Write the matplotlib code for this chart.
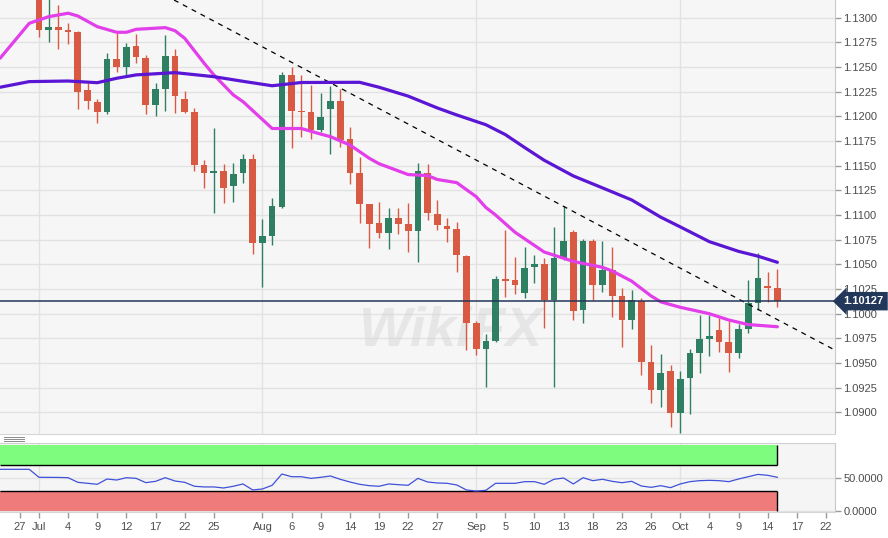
import matplotlib
matplotlib.use("Agg")
import matplotlib.pyplot as plt
import matplotlib.transforms as mtransforms
from matplotlib.lines import Line2D
from matplotlib.ticker import FormatStrFormatter
import numpy as np
import pandas as pd

plt.rcParams['font.family'] = ['Liberation Sans', 'DejaVu Sans']

# daily candles, 2019-07-01 .. 2019-10-15 (trading days)
first_candle = "2019-07-01"
opens = [1.1362, 1.12875, 1.12903, 1.12872, 1.12852, 1.12267, 1.12149, 1.12044, 1.12581, 1.12497,
         1.12713, 1.12595, 1.12115, 1.12274, 1.12609, 1.12176, 1.12041, 1.11507, 1.11426, 1.11443,
         1.11297, 1.11426, 1.11565, 1.10720, 1.10791, 1.11085, 1.12419, 1.12054, 1.12041, 1.11862,
         1.12075, 1.12159, 1.11768, 1.11429, 1.11109, 1.10916, 1.10815, 1.10967, 1.10906, 1.10838,
         1.11429, 1.11011, 1.10892, 1.10855, 1.10588, 1.09903, 1.09642, 1.09723, 1.10349, 1.10342,
         1.10207, 1.10470, 1.10501, 1.10139, 1.10561, 1.10831, 1.10038, 1.10740, 1.10291, 1.10443,
         1.10179, 1.09936, 1.10132, 1.09511, 1.09227, 1.09419, 1.08997, 1.09345, 1.09605, 1.09747,
         1.09835, 1.09716, 1.09599, 1.09842, 1.10111, 1.10281, 1.10257]
highs = [1.1405, 1.1322, 1.13129, 1.12949, 1.12868, 1.12335, 1.12179, 1.12639, 1.12842, 1.12747,
         1.12835, 1.12622, 1.12335, 1.12825, 1.12680, 1.12257, 1.12082, 1.11558, 1.11879, 1.11514,
         1.11524, 1.11619, 1.11619, 1.10957, 1.11170, 1.12453, 1.12497, 1.12419, 1.12318, 1.12234,
         1.12308, 1.12277, 1.11895, 1.11585, 1.11109, 1.11135, 1.11068, 1.11068, 1.11125, 1.11524,
         1.11517, 1.11152, 1.10973, 1.10932, 1.10595, 1.09926, 1.09791, 1.10382, 1.10848, 1.10572,
         1.10679, 1.10595, 1.10561, 1.10876, 1.11092, 1.10848, 1.10754, 1.10754, 1.10740, 1.10673,
         1.10258, 1.10240, 1.10156, 1.09683, 1.09592, 1.09480, 1.09422, 1.09639, 1.09987, 1.09987,
         1.09953, 1.09929, 1.09893, 1.10342, 1.10618, 1.10426, 1.10456]
lows = [1.12807, 1.12751, 1.12680, 1.12730, 1.12072, 1.12072, 1.11930, 1.12021, 1.12450, 1.12419,
        1.12538, 1.12024, 1.12004, 1.12054, 1.12031, 1.12031, 1.11449, 1.11271, 1.11018, 1.11119,
        1.11129, 1.11322, 1.10605, 1.10268, 1.10696, 1.11068, 1.11676, 1.11788, 1.11768, 1.11845,
        1.11616, 1.11693, 1.11315, 1.10916, 1.10663, 1.10764, 1.10653, 1.10808, 1.10628, 1.10521,
        1.10950, 1.10848, 1.10730, 1.10423, 1.09632, 1.09581, 1.09260, 1.09716, 1.10172, 1.10200,
        1.10162, 1.10308, 1.09852, 1.09260, 1.10544, 1.09936, 1.09903, 1.10139, 1.10223, 1.09963,
        1.09660, 1.09842, 1.09379, 1.09092, 1.09054, 1.08855, 1.08788, 1.08981, 1.09402, 1.09571,
        1.09615, 1.09406, 1.09548, 1.09801, 1.10038, 1.10122, 1.10065]
closes = [1.12875, 1.12903, 1.12875, 1.12852, 1.12250, 1.12159, 1.12044, 1.12581, 1.12497, 1.12700,
          1.12599, 1.12115, 1.12274, 1.12609, 1.12210, 1.12047, 1.11507, 1.11423, 1.11443, 1.11277,
          1.11416, 1.11565, 1.10714, 1.10788, 1.11092, 1.12419, 1.12054, 1.12041, 1.11862, 1.11991,
          1.12159, 1.11760, 1.11429, 1.11109, 1.10906, 1.10815, 1.10967, 1.10906, 1.10838, 1.11449,
          1.11018, 1.10899, 1.10858, 1.10595, 1.09909, 1.09642, 1.09723, 1.10349, 1.10335, 1.10291,
          1.10466, 1.10501, 1.10139, 1.10561, 1.10740, 1.10031, 1.10740, 1.10291, 1.10443, 1.10179,
          1.09936, 1.10139, 1.09514, 1.09227, 1.09396, 1.08997, 1.09338, 1.09605, 1.09747, 1.09774,
          1.09716, 1.09599, 1.09842, 1.10105, 1.10365, 1.10257, 1.10127]

# moving averages
ma20_dates = ["2019-06-25", "2019-06-28", "2019-07-02", "2019-07-04", "2019-07-05", "2019-07-09",
              "2019-07-11", "2019-07-12", "2019-07-15", "2019-07-18", "2019-07-19", "2019-07-22",
              "2019-07-24", "2019-07-25", "2019-07-29", "2019-07-30", "2019-08-02", "2019-08-07",
              "2019-08-09", "2019-08-12", "2019-08-14", "2019-08-16", "2019-08-19", "2019-08-22",
              "2019-08-26", "2019-08-27", "2019-08-29", "2019-09-02", "2019-09-03", "2019-09-04",
              "2019-09-06", "2019-09-11", "2019-09-13", "2019-09-16", "2019-09-19", "2019-09-20",
              "2019-09-24", "2019-09-26", "2019-09-27", "2019-10-01", "2019-10-04", "2019-10-08",
              "2019-10-10", "2019-10-15"]
ma20_values = [1.12589, 1.12943, 1.13010, 1.13045, 1.13017, 1.12909,
               1.12852, 1.12852, 1.12882, 1.12899, 1.12868, 1.12791,
               1.12538, 1.12420, 1.12217, 1.12149, 1.11877, 1.11877,
               1.11820, 1.11794, 1.11710, 1.11575, 1.11520, 1.11410,
               1.11400, 1.11360, 1.11328, 1.11186, 1.11076, 1.11000,
               1.10825, 1.10625, 1.10562, 1.10530, 1.10470, 1.10433,
               1.10330, 1.10180, 1.10120, 1.10065, 1.10000, 1.09936,
               1.09890, 1.09868]
ma50_dates = ["2019-06-25", "2019-06-28", "2019-07-04", "2019-07-09", "2019-07-11", "2019-07-15",
              "2019-07-19", "2019-07-25", "2019-07-30", "2019-08-02", "2019-08-07", "2019-08-15",
              "2019-08-19", "2019-08-22", "2019-08-27", "2019-08-29", "2019-09-03", "2019-09-05",
              "2019-09-09", "2019-09-11", "2019-09-16", "2019-09-19", "2019-09-24", "2019-09-27",
              "2019-10-01", "2019-10-04", "2019-10-09", "2019-10-11", "2019-10-15"]
ma50_values = [1.12295, 1.12352, 1.12358, 1.12341, 1.12386, 1.12420,
               1.12443, 1.12402, 1.12355, 1.12310, 1.12343, 1.12345,
               1.12295, 1.12205, 1.12085, 1.12014, 1.11915, 1.11815,
               1.11683, 1.11555, 1.11396, 1.11275, 1.11153, 1.10978,
               1.10880, 1.10730, 1.10632, 1.10583, 1.10521]

# RSI, 2019-06-25 .. 2019-10-15
rsi_values = [62.7, 62.7, 62.7, 62.7,
              50.6, 50.5, 50.4, 50.0, 43.0, 41.5, 40.0, 48.0, 46.5, 50.0,
              49.0, 42.5, 44.5, 50.0, 45.0, 43.0, 37.0, 36.0, 36.0, 34.4,
              37.0, 40.5, 31.4, 32.9, 38.5, 55.6, 51.5, 51.5, 49.0, 50.6,
              52.6, 47.6, 43.5, 40.0, 37.9, 37.0, 40.5, 39.4, 38.5, 49.0,
              43.5, 42.0, 41.5, 39.0, 31.4, 29.8, 30.9, 41.5, 41.5, 41.5,
              44.0, 44.0, 40.0, 47.6, 49.5, 40.5, 50.0, 45.5, 47.6, 44.5,
              42.4, 44.5, 37.4, 35.4, 37.9, 34.9, 40.5, 44.0, 45.5, 46.0,
              45.5, 44.0, 48.0, 51.5, 55.0, 53.6, 50.6]

last_price = 1.10127
trend_dates = ["2019-08-05", "2019-10-15"]
trend_prices = [1.1260, 1.0994]

tick_dates = ["2019-06-27", "2019-07-01", "2019-07-04", "2019-07-09", "2019-07-12", "2019-07-17",
              "2019-07-22", "2019-07-25", "2019-08-01", "2019-08-06", "2019-08-09", "2019-08-14",
              "2019-08-19", "2019-08-22", "2019-08-27", "2019-09-02", "2019-09-05", "2019-09-10",
              "2019-09-13", "2019-09-18", "2019-09-23", "2019-09-26", "2019-10-01", "2019-10-04",
              "2019-10-09", "2019-10-14", "2019-10-17", "2019-10-22"]
month_starts = ["2019-07-01", "2019-08-01", "2019-09-02", "2019-10-01"]

red = '#d95a43'
green = '#2f7f63'
navy = '#22375a'

days = pd.bdate_range("2019-06-25", "2019-10-22")
pos = {d.strftime("%Y-%m-%d"): i for i, d in enumerate(days)}
start = pos[first_candle]
xlim = (-0.01, 85.93)

fig = plt.figure(figsize=(8.88, 5.38), dpi=100)
fig.patch.set_facecolor('white')

# price panel
ax = fig.add_axes([0, 104 / 538, 835 / 888, 434 / 538])
ax.set_facecolor('#f6f6f6')
ax.set_xlim(*xlim)
ax.set_ylim(1.08781, 1.13179)

ax.text(0.54, 0.235, 'WikiFX', transform=ax.transAxes, fontsize=40, fontweight='bold',
        style='italic', color='#d4d4d4', alpha=0.45, ha='center', va='center', zorder=1)

for i, (o, h, l, c) in enumerate(zip(opens, highs, lows, closes)):
    x = start + i
    col = green if c >= o else red
    ax.vlines(x, l, h, color=col, lw=1, zorder=2)
    ax.bar(x, max(abs(c - o), 0.00004), bottom=min(o, c), width=0.69, color=col,
           linewidth=0, zorder=3)

ax.axline((pos[trend_dates[0]], trend_prices[0]), (pos[trend_dates[1]], trend_prices[1]),
          color='black', lw=0.9, ls=(0, (4, 4)), zorder=4)

ax.plot([pos[d] for d in ma20_dates], ma20_values, color='#e23ee9', lw=2.3,
        solid_capstyle='round', solid_joinstyle='round', zorder=5)
ax.plot([pos[d] for d in ma50_dates], ma50_values, color='#5a16d4', lw=2.3,
        solid_capstyle='round', solid_joinstyle='round', zorder=5)

ax.axhline(last_price, color=navy, lw=1.1, zorder=6)
trans = mtransforms.blended_transform_factory(ax.transAxes, ax.transData)
ax.text(1.034, last_price, f'{last_price:.5f}', transform=trans, ha='center', va='center',
        color='white', fontweight='bold', fontsize=8, clip_on=False, zorder=10,
        bbox=dict(boxstyle='larrow,pad=0.38', fc=navy, ec='none'))

ax.set_yticks(np.arange(1.0900, 1.13001, 0.0025))
ax.yaxis.set_major_formatter(FormatStrFormatter('%.4f'))
ax.yaxis.tick_right()
ax.set_xticks([pos[d] for d in month_starts])
ax.tick_params(axis='x', length=0, labelbottom=False)
ax.tick_params(axis='y', direction='out', length=4, width=1, color='#9a9a9a',
               labelcolor='#4d4d4d', labelsize=8, pad=2)
ax.grid(True, color='#e2e2e2', lw=1, zorder=0)
ax.set_axisbelow(True)
for s in ['top', 'left']:
    ax.spines[s].set_visible(False)
ax.spines['right'].set_color('#c9c9c9')
ax.spines['bottom'].set_color('#d6d6d6')

# RSI panel
ax2 = fig.add_axes([0, 26 / 538, 835 / 888, 69 / 538])
ax2.set_facecolor('#f5f5f5')
ax2.set_xlim(*xlim)
ax2.set_ylim(-2.0, 102.6)
band_end = start + len(closes) - 1
ax2.fill_between([xlim[0], band_end], 70, 100, color='#7efc7e', lw=0, zorder=1)
ax2.fill_between([xlim[0], band_end], 0, 30, color='#f07b7b', lw=0, zorder=1)
ax2.hlines([70, 30], xlim[0], band_end, color='black', lw=1, zorder=2)
ax2.vlines(band_end, 70, 100, color='black', lw=1, zorder=2)
ax2.vlines(band_end, 0, 30, color='black', lw=1, zorder=2)
for m in month_starts:
    ax2.axvline(pos[m], color='#e2e2e2', lw=1, zorder=0.5)
ax2.plot(range(len(rsi_values)), rsi_values, color='#3f51d9', lw=0.9, zorder=5)

ax2.set_yticks([0, 50])
ax2.yaxis.set_major_formatter(FormatStrFormatter('%.4f'))
ax2.yaxis.tick_right()
ax2.grid(axis='y', color='#e2e2e2', lw=1, zorder=0)
ax2.set_axisbelow(True)
ax2.set_xticks([pos[d] for d in tick_dates])
ax2.set_xticklabels([pd.Timestamp(d).strftime('%b') if d in month_starts
                     else str(pd.Timestamp(d).day) for d in tick_dates])
ax2.tick_params(axis='both', direction='out', length=4, width=1, color='#9a9a9a',
                labelcolor='#4d4d4d', labelsize=8)
ax2.tick_params(axis='x', pad=3)
ax2.tick_params(axis='y', pad=2)
ax2.spines['left'].set_visible(False)
ax2.spines['top'].set_color('#d0d0d0')
ax2.spines['right'].set_color('#c9c9c9')
ax2.spines['bottom'].set_color('#d6d6d6')

# panel handle
for yp in [437, 439, 441]:
    fig.add_artist(Line2D([4 / 888, 24 / 888], [(538 - yp) / 538] * 2,
                          transform=fig.transFigure, color='#8a8a8a', lw=0.7))

fig.savefig('out.png', dpi=100)
